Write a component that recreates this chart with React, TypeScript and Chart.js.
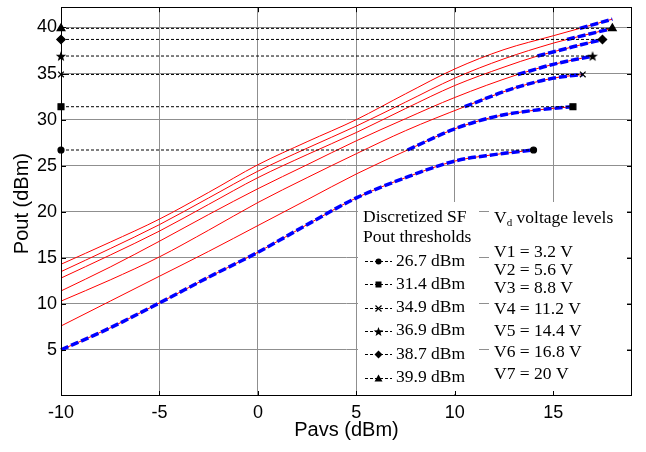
import React, { useEffect, useRef } from "react";
import { Chart, registerables } from "chart.js";
Chart.register(...registerables);

// ---- data ----
const xTicks = [-10, -5, 0, 5, 10, 15];
const yTicks = [5, 10, 15, 20, 25, 30, 35, 40];

const v1X = [-10, -7.5, -5, -2.5, 0, 2.5, 5, 7.5, 10, 12, 14];
const v1Y = [5.0, 7.4, 10.1, 12.9, 15.6, 18.6, 21.5, 23.7, 25.5, 26.2, 26.7];
const v2X = [-10, -7.5, -5, -2.5, 0, 2.5, 5, 7.6, 10, 12, 14, 16];
const v2Y = [7.6, 10.3, 13.0, 15.7, 18.5, 21.3, 24.1, 26.7, 29.0, 30.3, 31.0, 31.4];
const v3X = [-10, -7.5, -5, -2.5, 0, 2.5, 5, 7.5, 10.5, 13, 15, 16.5];
const v3Y = [10.3, 12.6, 15.1, 18.0, 21.0, 23.7, 26.3, 28.8, 31.4, 33.4, 34.5, 34.9];
const v4X = [-10, -7.5, -5, -2.5, 0, 2.5, 5, 7.5, 10, 13.2, 15, 17];
const v4Y = [11.4, 14.0, 16.8, 19.7, 22.5, 25.1, 27.7, 30.1, 32.4, 34.9, 36.0, 36.9];
const v5X = [-10, -7.5, -5, -2.5, 0, 2.5, 5, 7.5, 10, 12.5, 14.2, 16, 17.5];
const v5Y = [12.8, 15.3, 17.9, 20.8, 23.7, 26.2, 28.6, 31.2, 33.7, 35.7, 36.9, 37.9, 38.7];
const v6X = [-10, -7.5, -5, -2.5, 0, 2.5, 5, 7.5, 10, 12.5, 15, 15.7, 18];
const v6Y = [13.5, 16.0, 18.6, 21.5, 24.4, 26.9, 29.3, 31.9, 34.5, 36.6, 38.3, 38.7, 39.9];
const v7X = [-10, -7.5, -5, -2.5, 0, 2.5, 5, 7.5, 10, 12.5, 15, 16.35, 18];
const v7Y = [14.3, 16.7, 19.2, 22.1, 25.1, 27.6, 30.0, 32.8, 35.5, 37.6, 39.1, 39.9, 40.9];

const thresholds = [26.7, 31.4, 34.9, 36.9, 38.7, 39.9];
const thresholdLabels = ["26.7 dBm", "31.4 dBm", "34.9 dBm", "36.9 dBm", "38.7 dBm", "39.9 dBm"];
const markerKinds = ["circle", "square", "x", "star", "diamond", "triangle"];
const voltageLabels = ["V1 = 3.2 V", "V2 = 5.6 V", "V3 = 8.8 V", "V4 = 11.2 V", "V5 = 14.4 V", "V6 = 16.8 V", "V7 = 20 V"];

const curvesX = [v1X, v2X, v3X, v4X, v5X, v6X, v7X];
const curvesY = [v1Y, v2Y, v3Y, v4Y, v5Y, v6Y, v7Y];

const SANS = '"Liberation Sans", Arial, sans-serif';
const SERIF = '"Liberation Serif", "Times New Roman", serif';

function starPath(ctx: CanvasRenderingContext2D, cx: number, cy: number, R: number, r: number) {
  ctx.beginPath();
  for (let i = 0; i < 10; i++) {
    const rad = i % 2 === 0 ? R : r;
    const a = -Math.PI / 2 + (i * Math.PI) / 5;
    const px = cx + rad * Math.cos(a);
    const py = cy + rad * Math.sin(a);
    if (i === 0) ctx.moveTo(px, py);
    else ctx.lineTo(px, py);
  }
  ctx.closePath();
}

function makeStarCanvas() {
  const c = document.createElement("canvas");
  c.width = 12;
  c.height = 12;
  const g = c.getContext("2d")!;
  g.fillStyle = "#000";
  starPath(g, 6, 6.5, 5.5, 2.3);
  g.fill();
  return c;
}

function drawMarker(ctx: CanvasRenderingContext2D, kind: string, x: number, y: number) {
  ctx.save();
  ctx.fillStyle = "#000";
  ctx.strokeStyle = "#000";
  ctx.lineWidth = 1.2;
  if (kind === "circle") {
    ctx.beginPath();
    ctx.arc(x, y, 3, 0, Math.PI * 2);
    ctx.fill();
  } else if (kind === "square") {
    ctx.fillRect(x - 3, y - 3, 6, 6);
  } else if (kind === "x") {
    ctx.beginPath();
    ctx.moveTo(x - 3, y - 3);
    ctx.lineTo(x + 3, y + 3);
    ctx.moveTo(x + 3, y - 3);
    ctx.lineTo(x - 3, y + 3);
    ctx.stroke();
  } else if (kind === "star") {
    starPath(ctx, x, y + 0.5, 5, 2.1);
    ctx.fill();
  } else if (kind === "diamond") {
    ctx.beginPath();
    ctx.moveTo(x, y - 4);
    ctx.lineTo(x + 4, y);
    ctx.lineTo(x, y + 4);
    ctx.lineTo(x - 4, y);
    ctx.closePath();
    ctx.fill();
  } else if (kind === "triangle") {
    ctx.beginPath();
    ctx.moveTo(x, y - 4);
    ctx.lineTo(x + 4, y + 3);
    ctx.lineTo(x - 4, y + 3);
    ctx.closePath();
    ctx.fill();
  }
  ctx.restore();
}

const overlayPlugin = {
  id: "overlay",
  beforeDatasetsDraw(chart: any) {
    const ctx: CanvasRenderingContext2D = chart.ctx;
    ctx.save();
    ctx.fillStyle = "#fff";
    ctx.fillRect(358, 202, 121, 192);
    ctx.fillRect(489, 202, 138, 192);

    ctx.fillStyle = "#000";
    ctx.font = `17.5px ${SERIF}`;
    ctx.textBaseline = "middle";
    ctx.textAlign = "left";
    ctx.fillText("Discretized SF", 363, 217);
    ctx.fillText("Pout thresholds", 363, 237);
    thresholdLabels.forEach((lab, i) => {
      const y = 261 + i * 23.3;
      ctx.save();
      ctx.strokeStyle = "#000";
      ctx.lineWidth = 1;
      ctx.setLineDash([3, 2]);
      ctx.beginPath();
      ctx.moveTo(365, Math.round(y) + 0.5);
      ctx.lineTo(392, Math.round(y) + 0.5);
      ctx.stroke();
      ctx.restore();
      drawMarker(ctx, markerKinds[i], 378.5, Math.round(y) + 0.5);
      ctx.fillText(lab, 396, y);
    });

    // Vd header
    ctx.fillText("V", 494, 218);
    const vw = ctx.measureText("V").width;
    ctx.font = `11px ${SERIF}`;
    ctx.fillText("d", 494 + vw, 223);
    const dw = ctx.measureText("d").width;
    ctx.font = `17.5px ${SERIF}`;
    ctx.fillText(" voltage levels", 494 + vw + dw, 218);
    const vy = [252, 270.5, 288.5, 309, 331.5, 352.5, 374];
    voltageLabels.forEach((lab, i) => ctx.fillText(lab, 494, vy[i]));
    ctx.restore();
  },
  afterDraw(chart: any) {
    const ctx: CanvasRenderingContext2D = chart.ctx;
    const { left, right, top, bottom } = chart.chartArea;
    const xs = chart.scales.x;
    const ys = chart.scales.y;
    ctx.save();
    ctx.strokeStyle = "#000";
    ctx.lineWidth = 1;
    ctx.strokeRect(Math.round(left) + 0.5, Math.round(top) + 0.5, Math.round(right - left) - 1, Math.round(bottom - top) - 1);
    ctx.beginPath();
    xTicks.forEach((v) => {
      const px = Math.round(xs.getPixelForValue(v)) + 0.5;
      ctx.moveTo(px, bottom);
      ctx.lineTo(px, bottom - 5);
      ctx.moveTo(px, top);
      ctx.lineTo(px, top + 5);
    });
    yTicks.forEach((v) => {
      const py = Math.round(ys.getPixelForValue(v)) + 0.5;
      ctx.moveTo(left, py);
      ctx.lineTo(left + 5, py);
      ctx.moveTo(right, py);
      ctx.lineTo(right - 5, py);
    });
    ctx.stroke();

    ctx.fillStyle = "#000";
    ctx.font = `20px ${SANS}`;
    ctx.textAlign = "center";
    ctx.textBaseline = "middle";
    ctx.fillText("Pavs (dBm)", (left + right) / 2, 430);
    ctx.translate(22, (top + bottom) / 2 + 2);
    ctx.rotate(-Math.PI / 2);
    ctx.fillText("Pout (dBm)", 0, 0);
    ctx.restore();
  },
};

export default function App() {
  const ref = useRef<HTMLCanvasElement>(null);
  useEffect(() => {
    const star = makeStarCanvas();
    const styles: any[] = ["circle", "rect", "crossRot", star, "rectRot", "triangle"];
    const radii = [3, 4.2, 4, 6, 4.2, 4.5];

    const toPts = (xa: number[], ya: number[]) => xa.map((x, i) => ({ x, y: ya[i] }));

    const thresholdSets = thresholds.map((t, i) => {
      const cx = curvesX[i];
      return {
        type: "line",
        data: [
          { x: cx[0], y: t },
          { x: cx[cx.length - 1], y: t },
        ],
        borderColor: "#000",
        borderWidth: 1,
        borderDash: [3, 2],
        pointStyle: styles[i],
        pointRadius: radii[i],
        pointBackgroundColor: "#000",
        pointBorderColor: "#000",
        pointBorderWidth: 1.2,
        clip: false,
        tension: 0,
      };
    });

    const blueSets = curvesX.map((cx, i) => {
      const cy = curvesY[i];
      const lim = i === 0 ? -Infinity : thresholds[i - 1];
      const pts = toPts(cx, cy).filter((p) => p.y >= lim - 1e-9);
      return {
        type: "line",
        data: pts,
        borderColor: "#0000ff",
        borderWidth: 3.5,
        borderDash: [8, 3],
        pointRadius: 0,
        cubicInterpolationMode: "monotone",
        clip: false,
      };
    });

    const redSets = curvesX.map((cx, i) => ({
      type: "line",
      data: toPts(cx, curvesY[i]),
      borderColor: "#ff0000",
      borderWidth: 1,
      pointRadius: 0,
      cubicInterpolationMode: "monotone",
      clip: false,
    }));

    const chart = new Chart(ref.current!, {
      type: "line",
      data: { datasets: [...thresholdSets, ...blueSets, ...redSets] as any },
      options: {
        responsive: false,
        animation: false,
        devicePixelRatio: 1,
        layout: { padding: { top: 3, right: 14, bottom: 0, left: 0 } },
        plugins: { legend: { display: false }, tooltip: { enabled: false } },
        scales: {
          x: {
            type: "linear",
            min: -10,
            max: 19,
            afterBuildTicks: (s: any) => {
              s.ticks = xTicks.map((v) => ({ value: v }));
            },
            afterFit: (s: any) => {
              s.height = 56;
              s.paddingLeft = 0;
              s.paddingRight = 0;
            },
            grid: { color: "#8f8f8f", lineWidth: 1, drawTicks: false },
            border: { display: false },
            ticks: {
              padding: 6,
              color: "#000",
              font: { family: SANS, size: 18 },
              maxRotation: 0,
              autoSkip: false,
            },
          },
          y: {
            type: "linear",
            min: 0,
            max: 42.2,
            afterBuildTicks: (s: any) => {
              s.ticks = yTicks.map((v) => ({ value: v }));
            },
            afterFit: (s: any) => {
              s.width = 61;
              s.paddingTop = 0;
              s.paddingBottom = 0;
            },
            grid: { color: "#8f8f8f", lineWidth: 1, drawTicks: false },
            border: { display: false },
            ticks: {
              padding: 4,
              color: "#000",
              font: { family: SANS, size: 18 },
              autoSkip: false,
            },
          },
        },
      } as any,
      plugins: [overlayPlugin],
    });
    return () => chart.destroy();
  }, []);

  return (
    <div style={{ position: "fixed", left: 0, top: 0, width: 646, height: 452, background: "#fff" }}>
      <canvas ref={ref} width={646} height={452} style={{ display: "block" }} />
    </div>
  );
}
